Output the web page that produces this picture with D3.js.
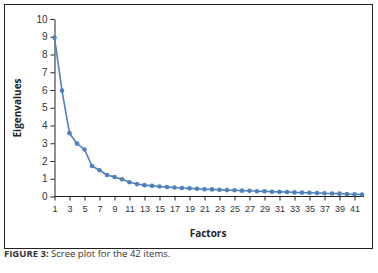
<!DOCTYPE html>
<html><head><meta charset="utf-8">
<script src="https://cdn.jsdelivr.net/npm/d3@7"></script>
<style>body{margin:0;background:#fff;} svg{display:block;font-family:"Open Sans","Liberation Sans",sans-serif;}</style>
</head><body><svg id="c" width="378" height="273"></svg>
<script>
const factors = d3.range(1, 43);
const eigenvalues = [8.95,5.97,3.57,2.98,2.65,1.72,1.48,1.21,1.10,0.97,0.80,0.70,0.64,0.60,0.56,0.53,0.51,0.48,0.46,0.44,0.41,0.40,0.38,0.36,0.35,0.33,0.32,0.30,0.29,0.27,0.26,0.25,0.23,0.22,0.21,0.20,0.18,0.17,0.16,0.14,0.13,0.11];
const yTicks = d3.range(0, 11);
const xTickLabels = d3.range(1, 42, 2);
const yTitle = "Eigenvalues", xTitle = "Factors";
const captionBold = "FIGURE 3:", captionText = " Scree plot for the 42 items.";

const svg = d3.select("#c");
svg.append("rect").attr("x",4.5).attr("y",4.5).attr("width",368).attr("height",244)
  .attr("fill","none").attr("stroke","#222").attr("stroke-width",1);

const x = d3.scaleLinear().domain([1,42]).range([54.5,362]);
const y = d3.scaleLinear().domain([0,10]).range([196.5,19]);

const ya = svg.append("g").attr("transform","translate(54.5,0)")
  .call(d3.axisLeft(y).tickValues(yTicks).tickSize(4).tickPadding(3).tickSizeOuter(0));
ya.select(".domain").attr("stroke","#222");
ya.selectAll("line").attr("stroke","#222");
ya.selectAll("text").attr("font-size","10px").attr("fill","#333");

const xa = svg.append("g").attr("transform","translate(0,196.5)")
  .call(d3.axisBottom(x).tickValues(xTickLabels).tickSize(4).tickPadding(5).tickSizeOuter(0));
xa.select(".domain").attr("stroke","#222").attr("d","M54.5,0H364");
xa.selectAll("line").attr("stroke","#222");
xa.selectAll("text").attr("font-size","9px").attr("fill","#333");

const line = d3.line().x((d,i)=>x(factors[i])).y(d=>y(d));
svg.append("path").datum(eigenvalues).attr("d",line)
  .attr("fill","none").attr("stroke","#4f81bd").attr("stroke-width",1.6);
svg.append("g").selectAll("circle").data(eigenvalues).join("circle")
  .attr("cx",(d,i)=>x(factors[i])).attr("cy",d=>y(d)).attr("r",2.3).attr("fill","#4f81bd");

svg.append("text").attr("x",208).attr("y",237).attr("text-anchor","middle")
  .attr("font-size","10px").attr("font-weight","bold").attr("fill","#222").text(xTitle);
svg.append("text").attr("transform","translate(21,108) rotate(-90)").attr("text-anchor","middle")
  .attr("font-size","10px").attr("font-weight","bold").attr("fill","#222").text(yTitle);

const cap = svg.append("text").attr("x",4).attr("y",257).attr("font-size","9.5px").attr("fill","#333");
cap.append("tspan").attr("font-weight","bold").text(captionBold);
cap.append("tspan").text(captionText);
</script></body></html>
